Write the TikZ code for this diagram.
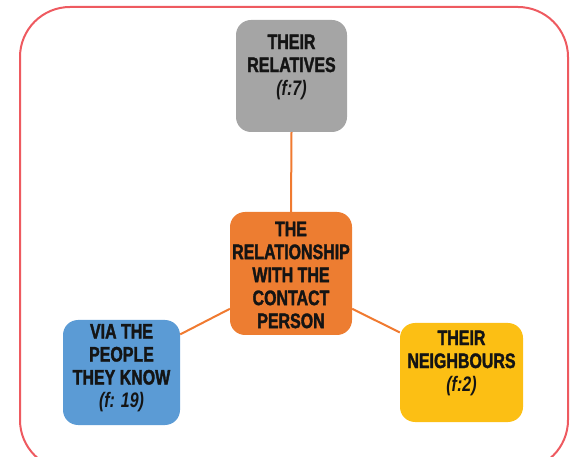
\documentclass[tikz,border=0pt]{standalone}
\usepackage{fontspec}
\newfontfamily\condfont[FakeStretch=0.76, BoldFeatures={FakeBold=1.6}]{Liberation Sans}
\definecolor{frame}{HTML}{EE5A60}
\definecolor{boxgray}{HTML}{A5A5A5}
\definecolor{boxorange}{HTML}{ED7D31}
\definecolor{boxblue}{HTML}{5B9BD5}
\definecolor{boxyellow}{HTML}{FCBF14}
\definecolor{linkorange}{HTML}{F07A30}
\tikzset{
  box/.style={rounded corners=15pt, inner sep=0pt, draw=none},
  lbl/.style={align=center, inner sep=0pt, text=black!92,
    font=\condfont\bfseries\fontsize{21}{23}\selectfont},
  link/.style={draw=linkorange, line width=2pt}
}
\begin{document}
\begin{tikzpicture}[x=1pt,y=-1pt]
\useasboundingbox (0,0) rectangle (571,457);
\clip (0,0) rectangle (571,457);
\draw[frame, line width=2pt, rounded corners=50pt] (20,7) rectangle (568,470);
\node[box, fill=boxgray, minimum width=111pt, minimum height=112pt] (rel) at (291.5,76) {};
\node[box, fill=boxorange, minimum width=122pt, minimum height=123pt] (ctr) at (291,273.5) {};
\node[box, fill=boxblue, minimum width=117pt, minimum height=105pt] (via) at (121.5,372.5) {};
\node[box, fill=boxyellow, minimum width=123pt, minimum height=99pt] (nei) at (461.5,372.5) {};
\draw[link] (rel.south) -- (ctr.north);
\draw[link] (ctr.210) -- (via.33);
\draw[link] (ctr.330) -- (nei.147);
\node[lbl] (relt) at (291.5,67) {THEIR\\RELATIVES\\\textit{(f:7)}};
\node[lbl] (ctrt) at (291,275) {THE\\RELATIONSHIP\\WITH THE\\CONTACT\\PERSON};
\node[lbl] (viat) at (121.5,368) {VIA THE\\PEOPLE\\THEY KNOW\\\textit{(f: 19)}};
\node[lbl] (neit) at (461.5,363) {THEIR\\NEIGHBOURS\\\textit{(f:2)}};
\end{tikzpicture}
\end{document}
